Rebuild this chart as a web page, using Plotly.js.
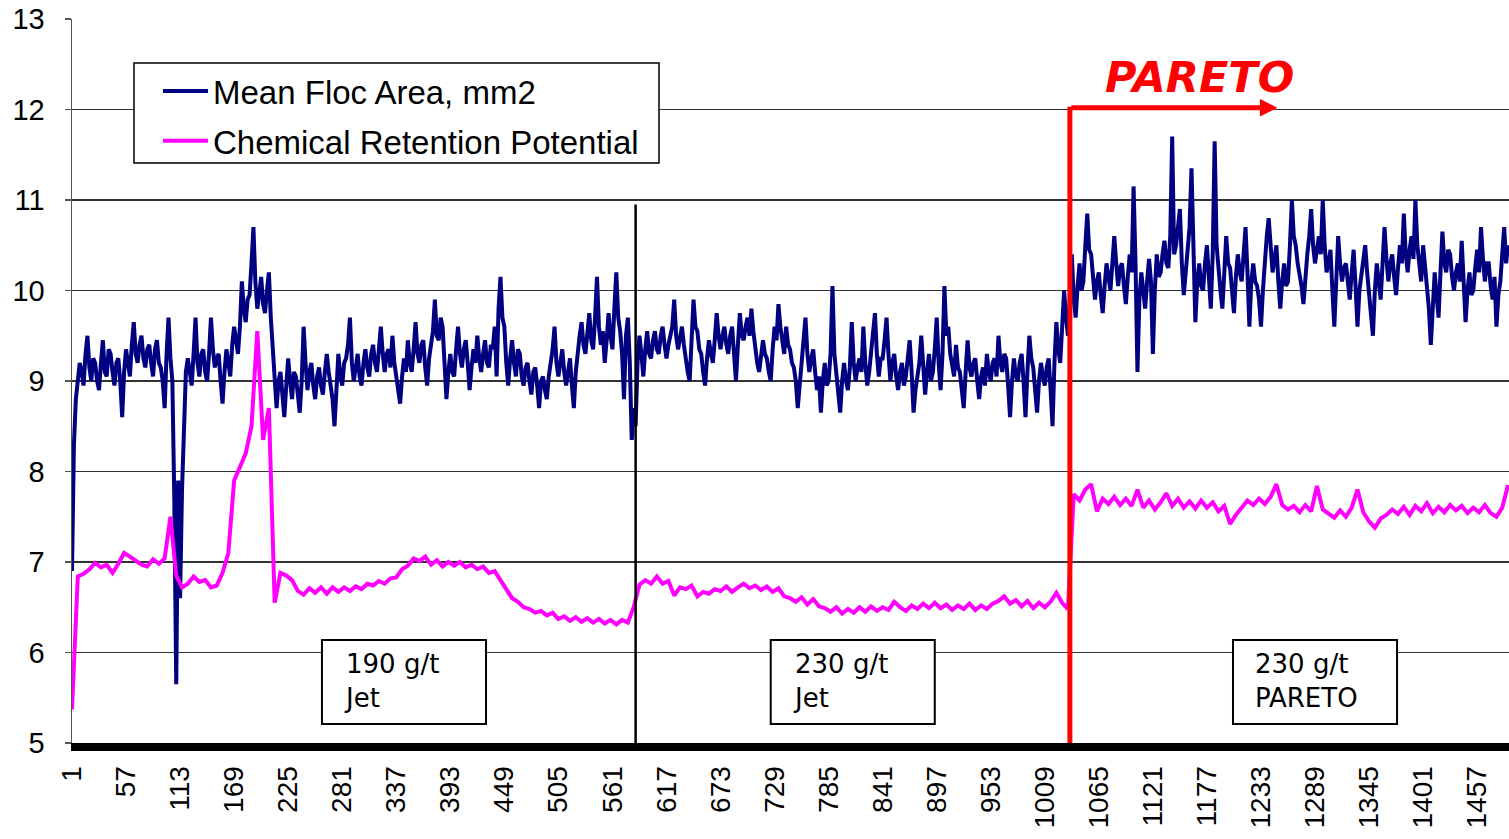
<!DOCTYPE html>
<html><head><meta charset="utf-8">
<script src="https://cdn.plot.ly/plotly-3.0.1.min.js"></script>
<style>html,body{margin:0;padding:0;background:#fff;} #chart{width:1509px;height:839px;}</style>
</head><body><div id="chart"></div>
<script>
// Mean Floc Area (mm2), read every 2nd observation
const flocStep = 2;
const flocArea = [
 6.9, 8.3, 8.8, 9.05, 9.2, 9.1, 8.95, 9.3, 9.5, 9.15, 9.0, 9.25, 9.2, 9.0, 8.9, 9.2, 9.45, 9.1, 9.05, 9.35,
 9.3, 9.1, 8.95, 9.2, 9.25, 9.0, 8.6, 9.1, 9.35, 9.2, 9.05, 9.4, 9.65, 9.3, 9.2, 9.4, 9.5, 9.25, 9.15, 9.35,
 9.4, 9.2, 9.05, 9.35, 9.45, 9.2, 9.15, 9.0, 8.7, 9.3, 9.7, 9.25, 9.0, 7.7, 5.65, 7.9, 6.6, 7.8, 8.6, 9.1,
 9.25, 9.1, 8.95, 9.3, 9.7, 9.2, 9.05, 9.3, 9.35, 9.1, 9.0, 9.3, 9.7, 9.35, 9.15, 9.25, 9.3, 9.0, 8.75, 9.1,
 9.35, 9.2, 9.05, 9.4, 9.6, 9.45, 9.3, 9.6, 10.1, 9.8, 9.65, 9.9, 9.95, 10.3, 10.7, 10.1, 9.8, 9.95, 10.15, 9.85,
 9.75, 10.0, 10.2, 9.7, 9.3, 8.9, 8.7, 9.0, 9.1, 8.85, 8.6, 8.95, 9.25, 9.0, 8.8, 9.1, 9.05, 8.85, 8.65, 9.0,
 9.6, 9.2, 8.9, 9.1, 9.2, 8.95, 8.8, 9.05, 9.15, 8.95, 8.85, 9.1, 9.3, 9.1, 8.95, 8.8, 8.5, 9.0, 9.3, 9.05,
 8.95, 9.2, 9.25, 9.4, 9.7, 9.2, 9.0, 9.15, 9.3, 9.05, 8.95, 9.2, 9.35, 9.15, 9.05, 9.3, 9.4, 9.2, 9.1, 9.35,
 9.6, 9.3, 9.1, 9.3, 9.35, 9.15, 9.5, 9.2, 9.05, 8.95, 8.75, 9.05, 9.25, 9.1, 9.45, 9.2, 9.1, 9.35, 9.65, 9.3,
 9.2, 9.4, 9.45, 9.15, 8.95, 9.25, 9.4, 9.55, 9.9, 9.5, 9.45, 9.7, 9.6, 9.2, 8.8, 9.1, 9.3, 9.1, 9.05, 9.35,
 9.6, 9.3, 9.15, 9.35, 9.45, 9.2, 8.9, 9.15, 9.35, 9.2, 9.5, 9.25, 9.1, 9.3, 9.45, 9.2, 9.15, 9.4, 9.35, 9.6,
 9.05, 9.8, 10.15, 9.7, 9.6, 9.2, 8.95, 9.25, 9.45, 9.2, 9.05, 9.35, 9.3, 9.05, 8.95, 9.15, 9.2, 9.0, 8.85, 9.1,
 9.15, 8.95, 8.7, 9.0, 9.05, 8.9, 8.8, 9.05, 9.2, 9.35, 9.6, 9.2, 9.05, 9.25, 9.35, 9.1, 8.95, 9.1, 9.25, 8.95,
 8.7, 9.1, 9.35, 9.5, 9.65, 9.4, 9.3, 9.55, 9.75, 9.45, 9.35, 9.7, 10.15, 9.6, 9.4, 9.55, 9.2, 9.45, 9.75, 9.5,
 9.35, 9.8, 10.2, 9.7, 9.55, 9.3, 8.8, 9.5, 9.7, 9.2, 8.35, 8.7, 8.5, 9.2, 9.5, 9.3, 9.05, 9.35, 9.55, 9.3,
 9.25, 9.45, 9.55, 9.35, 9.3, 9.5, 9.6, 9.4, 9.25, 9.4, 9.5, 9.6, 9.9, 9.5, 9.35, 9.5, 9.6, 9.4, 9.2, 9.1,
 9.0, 9.5, 9.9, 9.6, 9.55, 9.35, 9.3, 9.1, 8.95, 9.25, 9.45, 9.3, 9.2, 9.45, 9.75, 9.5, 9.35, 9.5, 9.6, 9.4,
 9.3, 9.5, 9.6, 9.3, 9.0, 9.4, 9.75, 9.5, 9.45, 9.6, 9.7, 9.5, 9.8, 9.55, 9.35, 9.2, 9.1, 9.3, 9.45, 9.3,
 9.25, 9.1, 9.0, 9.35, 9.6, 9.45, 9.85, 9.6, 9.45, 9.3, 9.6, 9.4, 9.35, 9.2, 9.15, 9.0, 8.7, 8.95, 9.2, 9.45,
 9.7, 9.3, 9.1, 9.25, 9.35, 9.1, 8.9, 9.05, 8.65, 9.0, 9.2, 8.95, 9.0, 9.3, 10.05, 9.3, 9.1, 8.9, 8.65, 9.0,
 9.2, 9.0, 8.9, 9.15, 9.65, 9.2, 9.0, 9.15, 9.25, 9.1, 9.6, 9.2, 8.95, 9.1, 9.3, 9.45, 9.75, 9.3, 9.05, 9.25,
 9.25, 9.45, 9.7, 9.3, 9.0, 9.2, 9.3, 9.05, 8.9, 9.1, 9.2, 8.95, 9.05, 9.25, 9.45, 9.1, 8.65, 8.9, 9.05, 9.2,
 9.5, 9.1, 8.85, 9.1, 9.3, 9.0, 9.1, 9.35, 9.7, 9.2, 8.9, 9.3, 10.05, 9.5, 9.6, 9.3, 9.2, 9.05, 9.4, 9.15,
 9.1, 8.9, 8.7, 9.1, 9.45, 9.15, 9.05, 9.2, 9.25, 9.0, 8.8, 9.05, 9.15, 8.95, 9.3, 9.1, 9.0, 9.2, 9.25, 9.05,
 9.5, 9.2, 9.1, 9.3, 9.25, 8.95, 8.6, 9.0, 9.25, 9.05, 9.0, 9.2, 9.3, 9.0, 8.6, 9.1, 9.5, 9.25, 9.15, 8.9,
 8.65, 9.0, 9.2, 9.05, 8.95, 9.15, 9.25, 8.9, 8.5, 9.2, 9.65, 9.35, 9.2, 9.6, 10.0, 9.7, 9.5, 9.9, 10.4, 9.9,
 9.7, 10.05, 10.3, 10.0, 10.1, 10.5, 10.85, 10.45, 10.4, 10.15, 9.9, 10.1, 10.2, 9.95, 9.75, 10.05, 10.3, 10.15, 10.0, 10.3,
 10.6, 10.3, 10.05, 10.25, 10.3, 10.05, 9.85, 10.15, 10.4, 10.2, 11.15, 10.3, 9.1, 9.9, 10.2, 10.0, 9.8, 10.1, 10.35, 10.1,
 9.3, 10.0, 10.4, 10.15, 10.2, 10.4, 10.55, 10.3, 10.25, 10.6, 11.7, 10.4, 10.5, 10.7, 10.9, 10.3, 9.95, 10.2, 10.4, 10.7,
 11.35, 10.3, 9.65, 10.1, 10.3, 10.05, 10.0, 10.3, 10.5, 10.15, 9.8, 10.4, 11.65, 10.5, 10.2, 10.0, 9.8, 10.2, 10.6, 10.3,
 10.25, 10.0, 9.75, 10.15, 10.4, 10.2, 10.1, 10.4, 10.7, 10.2, 9.6, 10.1, 10.3, 10.1, 10.05, 9.9, 9.6, 10.0, 10.4, 10.6,
 10.8, 10.4, 10.2, 10.35, 10.5, 10.1, 9.8, 10.1, 10.3, 10.05, 10.1, 10.5, 11.0, 10.6, 10.5, 10.3, 10.2, 10.05, 9.85, 10.2,
 10.4, 10.6, 10.9, 10.5, 10.3, 10.45, 10.6, 10.4, 11.0, 10.5, 10.2, 10.3, 10.45, 10.0, 9.6, 10.1, 10.6, 10.3, 10.1, 10.25,
 10.3, 10.1, 9.9, 10.2, 10.45, 10.05, 9.6, 10.0, 10.2, 10.35, 10.5, 10.2, 10.0, 9.8, 9.5, 10.0, 10.3, 10.1, 9.9, 10.3,
 10.7, 10.35, 10.1, 10.3, 10.4, 10.15, 9.95, 10.25, 10.5, 10.3, 10.85, 10.4, 10.2, 10.45, 10.6, 10.35, 11.0, 10.5, 10.3, 10.1,
 10.5, 10.25, 10.0, 9.8, 9.4, 9.9, 10.2, 9.95, 9.7, 10.2, 10.65, 10.3, 10.2, 10.45, 10.4, 10.15, 10.0, 10.2, 10.3, 10.1,
 10.55, 10.1, 9.65, 10.0, 10.2, 9.95, 10.0, 10.25, 10.45, 10.2, 10.7, 10.35, 10.1, 10.3, 10.3, 10.05, 9.9, 10.15, 9.6, 9.95,
 10.1, 10.4, 10.7, 10.3, 10.5
];

// Chemical Retention Potential, read every 6th observation
const chemStep = 6;
const chemRetention = [
 5.37, 6.84, 6.87, 6.92, 6.99, 6.94, 6.97, 6.88, 6.98, 7.1,
 7.06, 7.02, 6.97, 6.95, 7.03, 6.98, 7.04, 7.5, 6.85, 6.72,
 6.76, 6.84, 6.78, 6.8, 6.72, 6.74, 6.88, 7.1, 7.9, 8.05,
 8.2, 8.5, 9.55, 8.35, 8.7, 6.55, 6.88, 6.85, 6.8, 6.68,
 6.64, 6.71, 6.66, 6.72, 6.65, 6.72, 6.67, 6.72, 6.68, 6.73,
 6.7, 6.76, 6.74, 6.79, 6.76, 6.82, 6.83, 6.92, 6.96, 7.04,
 7.01, 7.06, 6.97, 7.02, 6.95, 7.0, 6.96, 7.0, 6.94, 6.97,
 6.92, 6.95, 6.88, 6.9, 6.8, 6.72, 6.6, 6.56, 6.5, 6.48,
 6.44, 6.46, 6.41, 6.44, 6.37, 6.4, 6.35, 6.39, 6.34, 6.38,
 6.33, 6.37, 6.32, 6.36, 6.31, 6.36, 6.33, 6.5, 6.75, 6.8,
 6.76, 6.84, 6.76, 6.79, 6.63, 6.72, 6.7, 6.74, 6.62, 6.67,
 6.65, 6.7, 6.68, 6.73, 6.67, 6.72, 6.76, 6.71, 6.74, 6.69,
 6.73, 6.67, 6.71, 6.62, 6.6, 6.56, 6.61, 6.53, 6.59, 6.51,
 6.49, 6.45, 6.5, 6.43, 6.48, 6.44, 6.5, 6.45, 6.51, 6.46,
 6.5, 6.47, 6.56, 6.5, 6.46, 6.52, 6.48, 6.54, 6.49, 6.55,
 6.49, 6.53, 6.47, 6.52, 6.48, 6.54, 6.47, 6.52, 6.48, 6.54,
 6.57, 6.62, 6.54, 6.58, 6.51, 6.57, 6.49, 6.55, 6.5, 6.56,
 6.66, 6.55, 6.48, 7.75, 7.68, 7.8, 7.86, 7.56, 7.7, 7.64,
 7.72, 7.63, 7.7, 7.62, 7.8, 7.6, 7.68, 7.58, 7.66, 7.76,
 7.62, 7.7, 7.6, 7.67, 7.59, 7.68, 7.6, 7.66, 7.56, 7.62,
 7.42, 7.52, 7.6, 7.68, 7.63, 7.7, 7.64, 7.72, 7.86, 7.63,
 7.58, 7.62, 7.55, 7.63, 7.56, 7.84, 7.58, 7.54, 7.49, 7.57,
 7.5, 7.6, 7.8, 7.55, 7.45, 7.38, 7.48, 7.52, 7.58, 7.53,
 7.61, 7.52, 7.62, 7.56, 7.65, 7.54, 7.61, 7.55, 7.63, 7.57,
 7.62, 7.54, 7.6, 7.55, 7.63, 7.54, 7.5, 7.6, 7.85
];

const tickLabels = ['1','57','113','169','225','281','337','393','449','505','561','617','673','729','785','841','897','953','1009','1065','1121','1177','1233','1289','1345','1401','1457'];
const seriesNames = ['Mean Floc Area, mm2', 'Chemical Retention Potential'];
const jetDoseChange = 585;     // observation where dose went 190 -> 230 g/t
const paretoStart = 1035;      // observation where PARETO started
const periodLabels = ['190 g/t<br>Jet', '230 g/t<br>Jet', '230 g/t<br>PARETO'];
const periodBoxes = [[260, 430], [725, 895], [1204, 1374]];

const flocObs = flocArea.map((_, k) => 1 + k * flocStep);
const chemObs = chemRetention.map((_, k) => 1 + k * chemStep);

const traces = [
  {type:'scatter', mode:'lines', name: seriesNames[0], x: flocObs, y: flocArea,
   line:{color:'#000080', width:4}, legendgroup:'a'},
  {type:'scatter', mode:'lines', name: seriesNames[1], x: chemObs, y: chemRetention,
   line:{color:'#FF00FF', width:4}, legendgroup:'b'}
];

const shapes = [
  {type:'line', xref:'x', yref:'y', x0:jetDoseChange, x1:jetDoseChange, y0:5, y1:10.95,
   line:{color:'#000000', width:2.5}, layer:'above'},
  {type:'line', xref:'x', yref:'y', x0:paretoStart, x1:paretoStart, y0:5, y1:12.03,
   line:{color:'#FF0000', width:5}, layer:'above'},
  // legend frame
  {type:'rect', xref:'paper', yref:'paper', x0:0.04315, x1:0.40849, y0:0.8011, y1:0.93923,
   fillcolor:'#FFFFFF', line:{color:'#000000', width:1.5}, layer:'above'}
];
periodBoxes.forEach(b => shapes.push({type:'rect', xref:'x', yref:'y', x0:b[0], x1:b[1], y0:5.21, y1:6.138,
  fillcolor:'#FFFFFF', line:{color:'#000000', width:2}, layer:'above'}));

const annotations = [
  {xref:'x', yref:'y', x:1250, y:12.02, ax:paretoStart, ay:12.02, axref:'x', ayref:'y',
   text:'', showarrow:true, arrowhead:2, arrowsize:0.7, arrowwidth:5, arrowcolor:'#FF0000', standoff:0},
  {xref:'x', yref:'y', x:1169, y:12.36, text:'<b><i>PARETO</i></b>', showarrow:false,
   font:{family:'DejaVu Sans', size:43, color:'#FF0000'}}
];
periodBoxes.forEach((b, k) => annotations.push({xref:'x', yref:'y', x:b[0] + 21, y:5.685,
  xanchor:'left', yanchor:'middle', align:'left', text: periodLabels[k], showarrow:false,
  font:{family:'DejaVu Sans', size:26, color:'#000000'}}));

const layout = {
  width:1509, height:839,
  margin:{l:72, r:0, t:19, b:96, pad:0},
  paper_bgcolor:'#FFFFFF', plot_bgcolor:'#FFFFFF',
  font:{family:'Liberation Sans, Arial, sans-serif', color:'#000000'},
  showlegend:true,
  legend:{x:0.04315, y:0.93923, xanchor:'left', yanchor:'top', bgcolor:'rgba(0,0,0,0)',
    borderwidth:0, font:{size:33, family:'Liberation Sans'},
    tracegroupgap:4, indentation:24, itemwidth:45},
  xaxis:{range:[1, 1490], tickmode:'array', tickvals: tickLabels.map(Number), ticktext: tickLabels,
    tickangle:-90, tickfont:{size:28}, showgrid:false, zeroline:false, showline:true,
    linecolor:'#000000', linewidth:8, ticks:'', ticklabelstandoff:4},
  yaxis:{range:[5, 13], tick0:5, dtick:1, showgrid:true, gridcolor:'#333333', gridwidth:1.5,
    zeroline:false, showline:true, linecolor:'#555555', linewidth:1.5, ticks:'outside',
    ticklen:6, tickcolor:'#555555', tickwidth:1.5, tickfont:{size:29}, ticklabelstandoff:14},
  shapes: shapes,
  annotations: annotations
};

Plotly.newPlot('chart', traces, layout, {displayModeBar:false, staticPlot:true});
</script></body></html>
